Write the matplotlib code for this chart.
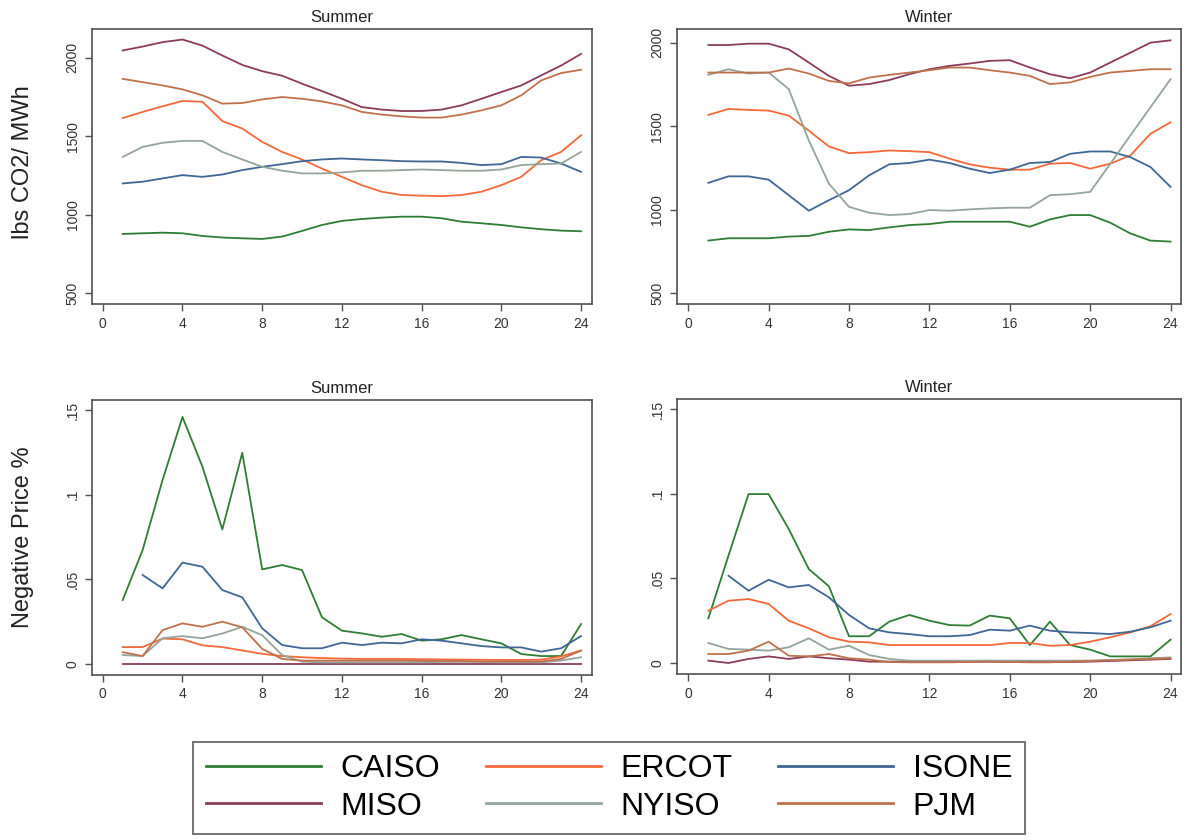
import numpy as np
import matplotlib
matplotlib.use("Agg")
import matplotlib.pyplot as plt

plt.rcParams['font.family'] = ['Liberation Sans', 'DejaVu Sans']

hours = list(range(1, 25))
regions = ["CAISO", "ERCOT", "ISONE", "MISO", "NYISO", "PJM"]
colors = {"CAISO": "#2e7d34", "ERCOT": "#f4683a", "ISONE": "#3f6695",
          "MISO": "#8c3b5c", "NYISO": "#93a59b", "PJM": "#c0714b"}

nan = np.nan

# CO2 intensity (lbs CO2 / MWh), summer
co2_summer = {
    "CAISO": [877, 881, 885, 881, 864, 854, 849, 845, 860, 896, 934, 960, 972, 981, 987, 987, 977, 955, 945, 934, 919, 907, 898, 894],
    "ERCOT": [1616, 1655, 1691, 1725, 1720, 1597, 1549, 1464, 1400, 1352, 1294, 1241, 1188, 1146, 1125, 1121, 1118, 1125, 1146, 1188, 1241, 1347, 1400, 1506],
    "ISONE": [1199, 1210, 1231, 1252, 1241, 1256, 1284, 1305, 1322, 1341, 1352, 1358, 1352, 1347, 1341, 1339, 1339, 1330, 1316, 1322, 1368, 1364, 1326, 1273],
    "MISO": [2047, 2072, 2100, 2117, 2078, 2015, 1955, 1915, 1886, 1835, 1788, 1739, 1686, 1670, 1661, 1661, 1670, 1697, 1739, 1782, 1824, 1888, 1951, 2025],
    "NYISO": [1368, 1432, 1458, 1470, 1470, 1400, 1352, 1305, 1280, 1263, 1263, 1269, 1280, 1280, 1284, 1288, 1284, 1280, 1280, 1288, 1316, 1322, 1326, 1400],
    "PJM": [1866, 1845, 1824, 1799, 1761, 1708, 1712, 1735, 1750, 1739, 1722, 1697, 1655, 1638, 1627, 1619, 1619, 1638, 1665, 1697, 1761, 1856, 1903, 1924],
}

# CO2 intensity (lbs CO2 / MWh), winter
co2_winter = {
    "CAISO": [814, 828, 828, 828, 838, 842, 867, 881, 877, 893, 907, 913, 927, 927, 927, 927, 897, 941, 967, 967, 921, 857, 814, 808],
    "ERCOT": [1567, 1603, 1597, 1593, 1563, 1473, 1378, 1338, 1344, 1354, 1350, 1344, 1305, 1271, 1251, 1239, 1239, 1275, 1279, 1245, 1275, 1324, 1454, 1523],
    "ISONE": [1160, 1199, 1199, 1179, 1086, 993, 1056, 1116, 1205, 1271, 1279, 1299, 1279, 1245, 1219, 1239, 1279, 1285, 1334, 1348, 1348, 1314, 1255, 1136],
    "MISO": [1986, 1986, 1994, 1994, 1960, 1881, 1801, 1742, 1752, 1776, 1811, 1841, 1861, 1875, 1891, 1895, 1851, 1811, 1787, 1821, 1881, 1940, 2000, 2014],
    "NYISO": [1807, 1841, 1815, 1821, 1722, 1414, 1155, 1016, 981, 967, 973, 997, 993, 1001, 1007, 1011, 1011, 1086, 1092, 1106, 1274, 1444, 1613, 1781],
    "PJM": [1821, 1821, 1821, 1821, 1845, 1815, 1771, 1756, 1791, 1807, 1821, 1835, 1851, 1851, 1835, 1821, 1801, 1752, 1762, 1795, 1821, 1831, 1841, 1841],
}

# Share of hours with negative prices, summer
neg_summer = {
    "CAISO": [0.0378, 0.0673, 0.1087, 0.146, 0.1166, 0.0795, 0.1248, 0.0559, 0.0585, 0.0555, 0.0276, 0.0197, 0.0181, 0.0161, 0.0177, 0.0138, 0.0146, 0.0171, 0.0146, 0.0122, 0.0059, 0.0047, 0.0047, 0.0236],
    "ERCOT": [0.010, 0.010, 0.015, 0.0146, 0.011, 0.010, 0.008, 0.006, 0.0047, 0.004, 0.0035, 0.0032, 0.003, 0.003, 0.003, 0.0028, 0.0027, 0.0026, 0.0025, 0.0024, 0.0024, 0.0026, 0.0045, 0.008],
    "ISONE": [nan, 0.0526, 0.0447, 0.0599, 0.0575, 0.0437, 0.0394, 0.0211, 0.0112, 0.0093, 0.0093, 0.0126, 0.0112, 0.0126, 0.0122, 0.0146, 0.0138, 0.0122, 0.0106, 0.0098, 0.0098, 0.0073, 0.0093, 0.0165],
    "MISO": [0.0] * 24,
    "NYISO": [0.0053, 0.0047, 0.0152, 0.0165, 0.0152, 0.018, 0.022, 0.017, 0.0053, 0.0014, 0.001, 0.001, 0.001, 0.001, 0.001, 0.001, 0.0012, 0.0012, 0.0012, 0.001, 0.001, 0.001, 0.002, 0.004],
    "PJM": [0.007, 0.0047, 0.020, 0.024, 0.022, 0.025, 0.0217, 0.009, 0.003, 0.002, 0.002, 0.002, 0.002, 0.002, 0.002, 0.0018, 0.0018, 0.0018, 0.0015, 0.0015, 0.0015, 0.0015, 0.003, 0.0079],
}

# Share of hours with negative prices, winter
neg_winter = {
    "CAISO": [0.0264, 0.0634, 0.0998, 0.0998, 0.0792, 0.0555, 0.0453, 0.0158, 0.0158, 0.0244, 0.0284, 0.025, 0.0224, 0.0221, 0.028, 0.0264, 0.0106, 0.0244, 0.0106, 0.0079, 0.0039, 0.0039, 0.0039, 0.0138],
    "ERCOT": [0.0309, 0.0368, 0.0378, 0.0349, 0.025, 0.0205, 0.0152, 0.0126, 0.0122, 0.0106, 0.0106, 0.0106, 0.0106, 0.0106, 0.0106, 0.0118, 0.0118, 0.0102, 0.0106, 0.0126, 0.0152, 0.0181, 0.0217, 0.0289],
    "ISONE": [nan, 0.0516, 0.0427, 0.0492, 0.0447, 0.0461, 0.0388, 0.0284, 0.0205, 0.0181, 0.0171, 0.0158, 0.0158, 0.0165, 0.0197, 0.0191, 0.0221, 0.0191, 0.0181, 0.0177, 0.0171, 0.0185, 0.0211, 0.025],
    "MISO": [0.0014, 0.0, 0.0024, 0.0039, 0.0024, 0.0039, 0.0028, 0.002, 0.0008, 0.0008, 0.0008, 0.0008, 0.0008, 0.0008, 0.0008, 0.0006, 0.0008, 0.0006, 0.0006, 0.0008, 0.0012, 0.0016, 0.002, 0.0024],
    "NYISO": [0.0118, 0.0083, 0.0079, 0.0073, 0.0093, 0.0146, 0.0079, 0.0102, 0.0047, 0.0024, 0.0014, 0.0014, 0.0014, 0.0014, 0.0014, 0.0014, 0.0014, 0.0014, 0.0014, 0.0014, 0.0018, 0.0022, 0.0028, 0.0033],
    "PJM": [0.0053, 0.0053, 0.0073, 0.0126, 0.0043, 0.0039, 0.0053, 0.0028, 0.002, 0.0006, 0.0004, 0.0004, 0.0004, 0.0006, 0.0008, 0.0006, 0.0004, 0.0004, 0.0008, 0.0012, 0.0016, 0.002, 0.0024, 0.0028],
}

xticks = [0, 4, 8, 12, 16, 20, 24]
co2_ticks = [500, 1000, 1500, 2000]
co2_ticklabels = ["500", "1000", "1500", "2000"]
neg_ticks = [0, 0.05, 0.10, 0.15]
neg_ticklabels = ["0", ".05", ".1", ".15"]

W, H = 1196, 840
fig = plt.figure(figsize=(W / 100, H / 100), dpi=100)
fig.patch.set_facecolor("white")


def px_axes(left, top, right, bottom):
    return fig.add_axes([left / W, 1 - bottom / H, (right - left) / W, (bottom - top) / H])


panels = [
    (px_axes(92, 29, 592, 304), co2_summer, "Summer", (-0.54, 24.55), (430, 2184), co2_ticks, co2_ticklabels),
    (px_axes(677, 29, 1181, 304), co2_winter, "Winter", (-0.56, 24.52), (434, 2082), co2_ticks, co2_ticklabels),
    (px_axes(92, 400, 592, 675), neg_summer, "Summer", (-0.54, 24.55), (-0.0065, 0.156), neg_ticks, neg_ticklabels),
    (px_axes(677, 399, 1181, 674), neg_winter, "Winter", (-0.56, 24.52), (-0.0065, 0.156), neg_ticks, neg_ticklabels),
]

frame_col = "#505050"
handles = {}
for ax, data, title, xl, yl, yt, ytl in panels:
    for r in regions:
        ln, = ax.plot(hours, data[r], color=colors[r], lw=1.3, label=r)
        handles[r] = ln
    ax.set_xlim(*xl)
    ax.set_ylim(*yl)
    ax.set_xticks(xticks)
    ax.set_xticklabels([str(t) for t in xticks])
    ax.set_yticks(yt)
    ax.set_yticklabels(ytl, rotation=90, va="center")
    ax.tick_params(axis="both", labelsize=10, labelcolor="#333333", color=frame_col,
                   length=5, width=1.0, pad=4)
    for s in ax.spines.values():
        s.set_color(frame_col)
        s.set_linewidth(1.2)
    ax.set_title(title, fontsize=12, color="#222222", pad=5)

fig.text(23 / W, 1 - 162 / H, "lbs CO2/ MWh", rotation=90, ha="center", va="center",
         fontsize=17, color="#222222")
fig.text(23 / W, 1 - 537 / H, "Negative Price %", rotation=90, ha="center", va="center",
         fontsize=17, color="#222222")

order = ["CAISO", "MISO", "ERCOT", "NYISO", "ISONE", "PJM"]
leg = fig.legend([handles[r] for r in order], order, ncol=3, loc="center",
                 bbox_to_anchor=(609 / W, 1 - 788 / H), fontsize=23,
                 handlelength=3.6, handletextpad=0.6, columnspacing=1.45,
                 labelspacing=0.22, frameon=True, fancybox=False, borderpad=0.4)
leg.get_frame().set_edgecolor("#444444")
leg.get_frame().set_linewidth(1.3)
for lh in leg.get_lines():
    lh.set_linewidth(2.0)

fig.savefig("out.png", dpi=100, facecolor="white")
